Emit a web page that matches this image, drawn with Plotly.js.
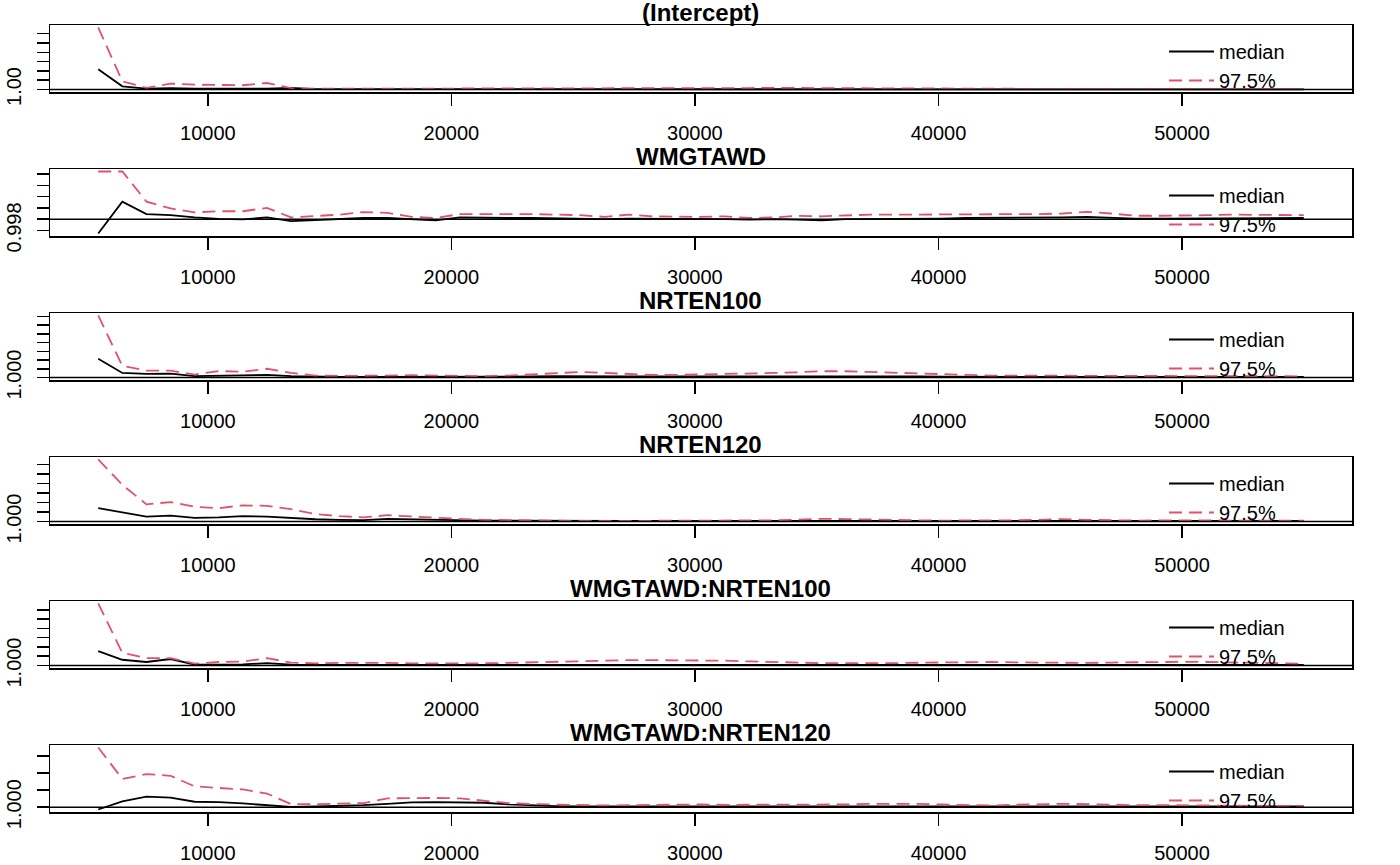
<!DOCTYPE html>
<html>
<head>
<meta charset="utf-8">
<script src="https://cdn.plot.ly/plotly-3.0.1.min.js"></script>
<style>
  html, body { margin: 0; padding: 0; background: #ffffff; }
  #chart { width: 1400px; height: 865px; }
</style>
</head>
<body>
<div id="chart"></div>
<script>
// ---------------- data ----------------
const panelTitles = ["(Intercept)", "WMGTAWD", "NRTEN100", "NRTEN120", "WMGTAWD:NRTEN100", "WMGTAWD:NRTEN120"];
const seriesNames = ["median", "97.5%"];

const iterations = [
  5500, 6490, 7480, 8470, 9460, 10450, 11440, 12430, 13420, 14410,
  15400, 16390, 17380, 18370, 19360, 20350, 21340, 22330, 23320, 24310,
  25300, 26290, 27280, 28270, 29260, 30250, 31240, 32230, 33220, 34210,
  35200, 36190, 37180, 38170, 39160, 40150, 41140, 42130, 43120, 44110,
  45100, 46090, 47080, 48070, 49060, 50050, 51040, 52030, 53020, 54010,
  55000
];

const xTickVals = [10000, 20000, 30000, 40000, 50000];
const xTickText = ["10000", "20000", "30000", "40000", "50000"];

// (Intercept)
const medianIntercept = [
  1.109, 1.017, 1.005, 1.007, 1.004, 1.004, 1.004, 1.004, 1.009, 1.002,
  1.002, 1.002, 1.002, 1.002, 1.002, 1.002, 1.002, 1.002, 1.002, 1.002,
  1.002, 1.002, 1.002, 1.002, 1.002, 1.002, 1.002, 1.002, 1.003, 1.002,
  1.002, 1.002, 1.002, 1.002, 1.002, 1.002, 1.002, 1.001, 1.001, 1.001,
  1.001, 1.001, 1.001, 1.001, 1.001, 1.001, 1.001, 1.001, 1.001, 1.001,
  1.001
];
const upperIntercept = [
  1.333, 1.044, 1.009, 1.032, 1.026, 1.023, 1.023, 1.035, 1.007, 1.004,
  1.004, 1.004, 1.005, 1.004, 1.004, 1.005, 1.005, 1.006, 1.006, 1.005,
  1.004, 1.004, 1.004, 1.004, 1.004, 1.005, 1.006, 1.008, 1.009, 1.008,
  1.006, 1.005, 1.005, 1.006, 1.006, 1.005, 1.004, 1.003, 1.003, 1.003,
  1.003, 1.003, 1.003, 1.003, 1.003, 1.003, 1.003, 1.003, 1.003, 1.003,
  1.003
];
const yTicksIntercept = [1.00, 1.05, 1.10, 1.15, 1.20, 1.25, 1.30];
const yLabelsIntercept = ["1.00", "", "", "", "", "", ""];

// WMGTAWD
const medianWMGTAWD = [
  0.99745, 1.0031, 1.0009, 1.0007, 1.0003, 1.00005, 0.99995, 1.0003, 0.99964, 0.9998,
  1.0000, 1.0002, 1.0002, 0.99995, 0.99977, 1.0003, 1.0002, 1.0002, 1.0002, 1.0001,
  1.0001, 1.0000, 1.0001, 1.0001, 1.0000, 1.0000, 1.0000, 0.9999, 1.0000, 0.9999,
  0.9998, 1.0000, 1.0000, 1.0001, 1.0001, 1.0001, 1.0002, 1.0002, 1.0002, 1.0002,
  1.0003, 1.0004, 1.0002, 1.0001, 1.0001, 1.0001, 1.0001, 1.0001, 1.0001, 1.0002,
  1.0002
];
const upperWMGTAWD = [
  1.00845, 1.00845, 1.0031, 1.0019, 1.0012, 1.0014, 1.0014, 1.0020, 1.0003, 1.0005,
  1.0008, 1.00125, 1.0011, 1.0004, 1.0002, 1.0009, 1.0009, 1.0010, 1.0009, 1.0008,
  1.0007, 1.0004, 1.0008, 1.0005, 1.0004, 1.0004, 1.0005, 1.0002, 1.0003, 1.0006,
  1.0005, 1.0007, 1.0008, 1.0008, 1.0008, 1.0008, 1.0009, 1.0008, 1.0009, 1.0009,
  1.0010, 1.0013, 1.0010, 1.0006, 1.0006, 1.0006, 1.0007, 1.0008, 1.0008, 1.0008,
  1.0007
];
const yTicksWMGTAWD = [0.998, 1.000, 1.002, 1.004, 1.006, 1.008];
const yLabelsWMGTAWD = ["0.998", "", "", "", "", ""];

// NRTEN100
const medianNRTEN100 = [
  1.0108, 1.0026, 1.0021, 1.0022, 1.0008, 1.0011, 1.0011, 1.0015, 1.0008, 1.0004,
  1.0003, 1.0003, 1.0003, 1.0003, 1.0003, 1.0003, 1.0004, 1.0005, 1.0006, 1.0008,
  1.0009, 1.0008, 1.0007, 1.0006, 1.0006, 1.0006, 1.0006, 1.0007, 1.0008, 1.0009,
  1.0010, 1.0010, 1.0009, 1.0008, 1.0007, 1.0005, 1.0004, 1.0004, 1.0004, 1.0004,
  1.0004, 1.0003, 1.0003, 1.0003, 1.0003, 1.0003, 1.0003, 1.0003, 1.0003, 1.0003,
  1.0003
];
const upperNRTEN100 = [
  1.0355, 1.0067, 1.0039, 1.0039, 1.0017, 1.0037, 1.0033, 1.0050, 1.0026, 1.0011,
  1.0009, 1.0008, 1.0011, 1.0013, 1.0011, 1.0008, 1.0008, 1.0011, 1.0017, 1.0025,
  1.0032, 1.0026, 1.0019, 1.0015, 1.0015, 1.0017, 1.0021, 1.0021, 1.0026, 1.0030,
  1.0036, 1.0036, 1.0032, 1.0026, 1.0022, 1.0017, 1.0013, 1.0011, 1.0011, 1.0013,
  1.0011, 1.0009, 1.0009, 1.0009, 1.0009, 1.0011, 1.0009, 1.0008, 1.0008, 1.0008,
  1.0006
];
const yTicksNRTEN100 = [1.000, 1.005, 1.010, 1.015, 1.020, 1.025, 1.030, 1.035];
const yLabelsNRTEN100 = ["1.000", "", "", "", "", "", "", ""];

// NRTEN120
const medianNRTEN120 = [
  1.0070, 1.0048, 1.0026, 1.0031, 1.0019, 1.0022, 1.0028, 1.0026, 1.0019, 1.0012,
  1.0009, 1.0007, 1.0014, 1.0012, 1.0009, 1.0005, 1.0005, 1.0005, 1.0004, 1.0004,
  1.0003, 1.0003, 1.0003, 1.0003, 1.0003, 1.0003, 1.0003, 1.0003, 1.0004, 1.0005,
  1.0006, 1.0006, 1.0005, 1.0004, 1.0004, 1.0003, 1.0003, 1.0003, 1.0003, 1.0004,
  1.0005, 1.0004, 1.0003, 1.0003, 1.0003, 1.0003, 1.0003, 1.0003, 1.0003, 1.0003,
  1.0003
];
const upperNRTEN120 = [
  1.0325, 1.0192, 1.0090, 1.0102, 1.0077, 1.0070, 1.0085, 1.0082, 1.0065, 1.0039,
  1.0028, 1.0022, 1.0033, 1.0026, 1.0020, 1.0014, 1.0009, 1.0007, 1.0005, 1.0004,
  1.0003, 1.0003, 1.0003, 1.0003, 1.0003, 1.0003, 1.0003, 1.0003, 1.0006, 1.0010,
  1.0014, 1.0013, 1.0010, 1.0007, 1.0006, 1.0005, 1.0005, 1.0005, 1.0006, 1.0009,
  1.0013, 1.0009, 1.0006, 1.0005, 1.0006, 1.0007, 1.0006, 1.0005, 1.0005, 1.0005,
  1.0004
];
const yTicksNRTEN120 = [1.000, 1.005, 1.010, 1.015, 1.020, 1.025, 1.030];
const yLabelsNRTEN120 = ["1.000", "", "", "", "", "", ""];

// WMGTAWD:NRTEN100
const medianW100 = [
  1.0077, 1.0031, 1.0019, 1.0035, 1.0005, 1.0005, 1.0006, 1.0013, 1.0005, 1.0003,
  1.0003, 1.0004, 1.0005, 1.0004, 1.0003, 1.0003, 1.0003, 1.0003, 1.0004, 1.0004,
  1.0004, 1.0005, 1.0005, 1.0006, 1.0006, 1.0007, 1.0007, 1.0006, 1.0005, 1.0004,
  1.0004, 1.0003, 1.0003, 1.0003, 1.0004, 1.0004, 1.0005, 1.0005, 1.0005, 1.0004,
  1.0004, 1.0004, 1.0004, 1.0005, 1.0005, 1.0005, 1.0005, 1.0004, 1.0004, 1.0003,
  1.0003
];
const upperW100 = [
  1.0334, 1.0068, 1.0040, 1.0040, 1.0010, 1.0019, 1.0021, 1.0040, 1.0016, 1.0012,
  1.0014, 1.0016, 1.0014, 1.0012, 1.0011, 1.0010, 1.0012, 1.0014, 1.0017, 1.0022,
  1.0026, 1.0028, 1.0029, 1.0029, 1.0029, 1.0028, 1.0026, 1.0022, 1.0018, 1.0015,
  1.0013, 1.0013, 1.0012, 1.0013, 1.0015, 1.0017, 1.0019, 1.0019, 1.0017, 1.0015,
  1.0014, 1.0014, 1.0016, 1.0018, 1.0019, 1.0020, 1.0019, 1.0016, 1.0014, 1.0012,
  1.0010
];
const yTicksW100 = [1.000, 1.005, 1.010, 1.015, 1.020, 1.025, 1.030];
const yLabelsW100 = ["1.000", "", "", "", "", "", ""];

// WMGTAWD:NRTEN120
const medianW120 = [
  0.99932, 1.0017, 1.0031, 1.0028, 1.0016, 1.0015, 1.0011, 1.0007, 1.0001, 1.0002,
  1.0003, 1.0006, 1.0010, 1.0014, 1.0015, 1.0015, 1.0013, 1.0008, 1.0005, 1.0003,
  1.0002, 1.0002, 1.0002, 1.0003, 1.0003, 1.0003, 1.0003, 1.0002, 1.0002, 1.0002,
  1.0002, 1.0003, 1.0003, 1.0003, 1.0003, 1.0002, 1.0002, 1.0002, 1.0003, 1.0003,
  1.0003, 1.0003, 1.0002, 1.0002, 1.0003, 1.0003, 1.0002, 1.0002, 1.0002, 1.0002,
  1.0002
];
const upperW120 = [
  1.0175, 1.0083, 1.0097, 1.0092, 1.0061, 1.0057, 1.0052, 1.0040, 1.0009, 1.0009,
  1.0010, 1.0012, 1.0026, 1.0027, 1.0027, 1.0026, 1.0019, 1.0012, 1.0009, 1.0007,
  1.0006, 1.0005, 1.0006, 1.0007, 1.0008, 1.0008, 1.0007, 1.0007, 1.0006, 1.0006,
  1.0007, 1.0008, 1.0010, 1.0011, 1.0010, 1.0008, 1.0006, 1.0005, 1.0007, 1.0009,
  1.0010, 1.0009, 1.0007, 1.0006, 1.0006, 1.0005, 1.0005, 1.0004, 1.0004, 1.0004,
  1.0004
];
const yTicksW120 = [1.000, 1.005, 1.010, 1.015];
const yLabelsW120 = ["1.000", "", "", ""];

// ---------------- assembly ----------------
const medians = [medianIntercept, medianWMGTAWD, medianNRTEN100, medianNRTEN120, medianW100, medianW120];
const uppers = [upperIntercept, upperWMGTAWD, upperNRTEN100, upperNRTEN120, upperW100, upperW120];
const yTicks = [yTicksIntercept, yTicksWMGTAWD, yTicksNRTEN100, yTicksNRTEN120, yTicksW100, yTicksW120];
const yLabels = [yLabelsIntercept, yLabelsWMGTAWD, yLabelsNRTEN100, yLabelsNRTEN120, yLabelsW100, yLabelsW120];

const W = 1400, H = 865;
const PLOT_L = 50, PLOT_R = 1352;
const PANEL_TOP0 = 25, PANEL_STEP = 144, PANEL_H = 67;
const RED = "#DF536B";
const FONT = "Liberation Sans, Arial, Helvetica, sans-serif";

function rExtend(lo, hi) {
  const d = (hi - lo) * 0.04;
  return [lo - d, hi + d];
}

const xMin = Math.min(...iterations), xMax = Math.max(...iterations);
const xRange = rExtend(xMin, xMax);

const traces = [];
const layout = {
  width: W, height: H,
  margin: {l: 0, r: 0, t: 0, b: 0, pad: 0},
  paper_bgcolor: "#ffffff",
  plot_bgcolor: "#ffffff",
  font: {family: FONT, size: 20, color: "#000000"},
  showlegend: true,
  annotations: [],
  shapes: []
};

for (let k = 0; k < 6; k++) {
  const n = k + 1;
  const xa = n === 1 ? "x" : "x" + n;
  const ya = n === 1 ? "y" : "y" + n;
  const lg = n === 1 ? "legend" : "legend" + n;
  const top = PANEL_TOP0 + PANEL_STEP * k;
  const bot = top + PANEL_H;

  const all = medians[k].concat(uppers[k]);
  const lo = Math.min(1, Math.min(...all));
  const hi = Math.max(1, Math.max(...all));
  const yRange = rExtend(lo, hi);

  layout["xaxis" + (n === 1 ? "" : n)] = {
    domain: [PLOT_L / W, PLOT_R / W],
    anchor: ya,
    range: xRange,
    tickmode: "array",
    tickvals: xTickVals,
    ticktext: xTickText,
    ticks: "outside",
    ticklen: 12,
    tickwidth: 1.5,
    tickcolor: "#000000",
    ticklabelstandoff: 10,
    tickfont: {family: FONT, size: 20, color: "#000000"},
    showline: true,
    mirror: true,
    linecolor: "#000000",
    linewidth: 1.5,
    showgrid: false,
    zeroline: false,
    automargin: false,
    fixedrange: true
  };
  layout["yaxis" + (n === 1 ? "" : n)] = {
    domain: [1 - bot / H, 1 - top / H],
    anchor: xa,
    range: yRange,
    tickmode: "array",
    tickvals: yTicks[k],
    ticktext: yLabels[k],
    tickangle: -90,
    ticks: "outside",
    ticklen: 12,
    tickwidth: 1.5,
    tickcolor: "#000000",
    ticklabelstandoff: 8,
    tickfont: {family: FONT, size: 20, color: "#000000"},
    showline: true,
    mirror: true,
    linecolor: "#000000",
    linewidth: 1.5,
    showgrid: false,
    zeroline: false,
    automargin: false,
    fixedrange: true
  };

  layout[lg] = {
    x: 1164 / W,
    y: 1 - (top + 7) / H,
    xanchor: "left",
    yanchor: "top",
    bgcolor: "rgba(0,0,0,0)",
    borderwidth: 0,
    font: {family: FONT, size: 20, color: "#000000"},
    itemwidth: 45,
    tracegroupgap: 0
  };

  layout.annotations.push({
    text: "<b>" + panelTitles[k] + "</b>",
    xref: "paper", yref: "paper",
    x: (PLOT_L + PLOT_R) / 2 / W,
    y: 1 - top / H,
    xanchor: "center", yanchor: "bottom",
    showarrow: false,
    borderpad: 0,
    yshift: -2,
    font: {family: FONT, size: 24, color: "#000000"}
  });

  layout.shapes.push({
    type: "line",
    xref: xa + " domain", yref: ya,
    x0: 0, x1: 1, y0: 1, y1: 1,
    line: {color: "#000000", width: 1.5},
    layer: "above"
  });

  traces.push({
    type: "scatter", mode: "lines",
    x: iterations, y: medians[k],
    xaxis: xa, yaxis: ya, legend: lg,
    name: seriesNames[0],
    line: {color: "#000000", width: 1.8},
    hoverinfo: "skip"
  });
  traces.push({
    type: "scatter", mode: "lines",
    x: iterations, y: uppers[k],
    xaxis: xa, yaxis: ya, legend: lg,
    name: seriesNames[1],
    line: {color: RED, width: 1.8, dash: "13px,7px"},
    hoverinfo: "skip"
  });
}

Plotly.newPlot("chart", traces, layout, {staticPlot: true, displayModeBar: false});
</script>
</body>
</html>
